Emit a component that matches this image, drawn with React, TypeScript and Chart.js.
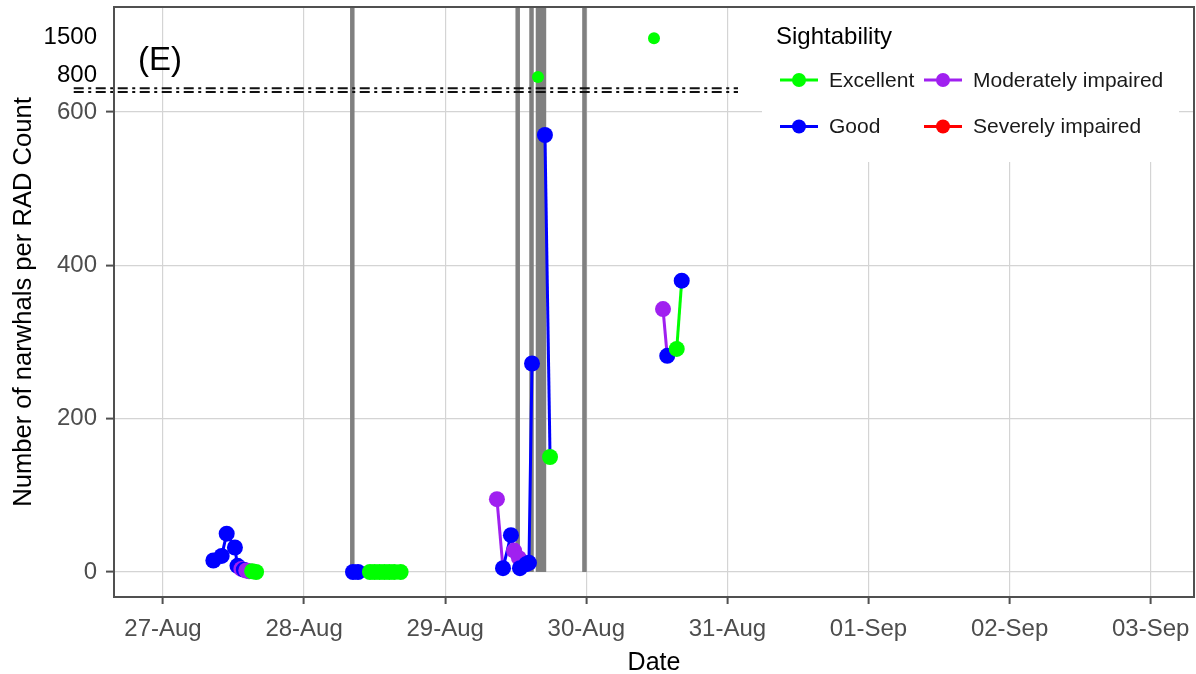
import React, { useEffect, useRef } from 'react';
import { Chart, registerables } from 'chart.js';

Chart.register(...registerables);

// ---------------- data ----------------
const sightLevels = ['Excellent', 'Good', 'Moderately impaired', 'Severely impaired'];
const sightColors = ['#00FF00', '#0000FF', '#A020F0', '#FF0000'];

// observation times (MM-DD HH:MM), counts (null = gap between survey blocks), sightability
const obsTimes = [
  '08-27 08:34', '08-27 09:59', '08-27 10:50', '08-27 12:14', '08-27 12:40', '08-27 13:20',
  '08-27 13:45', '08-27 14:10', '08-27 14:40', '08-27 15:10', '08-27 15:50',
  '08-27 20:00',
  '08-28 08:19', '08-28 09:10', '08-28 11:12', '08-28 12:00', '08-28 12:50', '08-28 13:40',
  '08-28 14:30', '08-28 15:20', '08-28 16:25',
  '08-28 22:00',
  '08-29 08:48', '08-29 09:50', '08-29 11:11', '08-29 11:43', '08-29 12:33', '08-29 12:43',
  '08-29 13:44', '08-29 14:15', '08-29 14:46',
  '08-29 15:15',
  '08-29 15:47',
  '08-29 16:20',
  '08-29 16:58', '08-29 17:50',
  '08-30 00:00',
  '08-30 11:31',
  '08-30 12:00',
  '08-30 13:03', '08-30 13:46', '08-30 15:23', '08-30 16:14',
];
const obsCounts: (number | null)[] = [
  15, 21, 50, 32, 8, 4,
  3, 2, 1, 1, 0,
  null,
  0, 0, 0, 0, 0, 0,
  0, 0, 0,
  null,
  95, 5, 48, 28, 18, 5,
  10, 12, 272,
  null,
  770,
  null,
  570, 150,
  null,
  1480,
  null,
  343, 282, 291, 380,
];
const obsSight = [
  'Good', 'Good', 'Good', 'Good', 'Good', 'Moderately impaired',
  'Good', 'Moderately impaired', 'Moderately impaired', 'Excellent', 'Excellent',
  '',
  'Good', 'Good', 'Excellent', 'Excellent', 'Excellent', 'Excellent',
  'Excellent', 'Excellent', 'Excellent',
  '',
  'Moderately impaired', 'Good', 'Good', 'Moderately impaired', 'Moderately impaired', 'Good',
  'Good', 'Good', 'Good',
  '',
  'Excellent',
  '',
  'Good', 'Excellent',
  '',
  'Excellent',
  '',
  'Moderately impaired', 'Good', 'Excellent', 'Good',
];

// start times of RAD counts (grey vertical lines)
const surveyLineTimes = [
  '08-28 08:12', '08-29 12:20', '08-29 14:41', '08-29 15:47', '08-29 16:17', '08-29 16:48', '08-29 23:41',
];

const xTickLabels = ['27-Aug', '28-Aug', '29-Aug', '30-Aug', '31-Aug', '01-Sep', '02-Sep', '03-Sep'];
const yTickValues = [0, 200, 400, 600, 800, 1500];
const breakMarkLevels = [626, 631];
const breakMarkFrom = '08-26 08:49';
const breakMarkTo = '08-31 01:48';
const xMinTime = '08-26 15:40';
const xMaxTime = '09-03 07:22';
const yMinValue = -32.6;
const yMaxValue = 2050;
const panelLabel = '(E)';
const legendTitle = 'Sightability';

// axis break: values above BREAK_AT are squeezed
const BREAK_AT = 636;
const SQUEEZE = 1 / 14;
const toAxis = (v: number) => (v <= BREAK_AT ? v : BREAK_AT + (v - BREAK_AT) * SQUEEZE);

function dayOf(s: string): number {
  const [md, hm] = s.split(' ');
  const [mo, d] = md.split('-').map(Number);
  const [h, m] = hm.split(':').map(Number);
  const base = mo === 8 ? d - 27 : d + 31 - 27;
  return base + h / 24 + m / 1440;
}

const FONT = '"Liberation Sans", Arial, sans-serif';
Chart.defaults.font.family = FONT;

const colorAt = (i: number) => {
  const k = sightLevels.indexOf(obsSight[i]);
  return k >= 0 ? sightColors[k] : '#000000';
};

const bgPlugin = {
  id: 'bg',
  beforeDraw(chart: any) {
    const { ctx, width, height } = chart;
    ctx.save();
    ctx.fillStyle = '#ffffff';
    ctx.fillRect(0, 0, width, height);
    ctx.restore();
  },
};

const surveyLinesPlugin = {
  id: 'surveyLines',
  beforeDatasetsDraw(chart: any) {
    const { ctx, chartArea: a, scales } = chart;
    const x = scales.x, y = scales.y;
    ctx.save();
    ctx.beginPath();
    ctx.rect(a.left, a.top, a.width, a.height);
    ctx.clip();
    ctx.strokeStyle = '#808080';
    ctx.lineWidth = 4.5;
    const y0 = y.getPixelForValue(0);
    for (const t of surveyLineTimes) {
      const px = x.getPixelForValue(dayOf(t));
      ctx.beginPath();
      ctx.moveTo(px, y0);
      ctx.lineTo(px, a.top);
      ctx.stroke();
    }
    ctx.restore();
  },
};

const overlayPlugin = {
  id: 'overlay',
  afterDraw(chart: any) {
    const { ctx, chartArea: a, scales } = chart;
    const x = scales.x, y = scales.y;
    ctx.save();
    // axis-break marks
    ctx.strokeStyle = '#111111';
    ctx.lineWidth = 2;
    ctx.setLineDash([10, 4.5, 3, 4.5]);
    const xa = x.getPixelForValue(dayOf(breakMarkFrom));
    const xb = x.getPixelForValue(dayOf(breakMarkTo));
    for (const v of breakMarkLevels) {
      const py = y.getPixelForValue(toAxis(v));
      ctx.beginPath();
      ctx.moveTo(xa, py);
      ctx.lineTo(xb, py);
      ctx.stroke();
    }
    ctx.setLineDash([]);

    // legend
    ctx.fillStyle = '#ffffff';
    ctx.fillRect(762, a.top + 1, 417, 162 - a.top - 1);
    ctx.fillStyle = '#000000';
    ctx.font = `24px ${FONT}`;
    ctx.textAlign = 'left';
    ctx.textBaseline = 'alphabetic';
    ctx.fillText(legendTitle, 776, 44);
    const cols = [780, 924];
    const rows = [80, 126.5];
    sightLevels.forEach((lab, i) => {
      const cx = cols[Math.floor(i / 2)];
      const cy = rows[i % 2];
      ctx.strokeStyle = sightColors[i];
      ctx.lineWidth = 3;
      ctx.beginPath();
      ctx.moveTo(cx, cy);
      ctx.lineTo(cx + 38, cy);
      ctx.stroke();
      ctx.fillStyle = sightColors[i];
      ctx.beginPath();
      ctx.arc(cx + 19, cy, 7, 0, Math.PI * 2);
      ctx.fill();
      ctx.fillStyle = '#1a1a1a';
      ctx.font = `21px ${FONT}`;
      ctx.textBaseline = 'middle';
      ctx.fillText(lab, cx + 49, cy + 1);
    });

    // panel label
    ctx.fillStyle = '#000000';
    ctx.font = `33px ${FONT}`;
    ctx.textAlign = 'center';
    ctx.textBaseline = 'middle';
    ctx.fillText(panelLabel, 160, 61);

    // panel border
    ctx.strokeStyle = '#505050';
    ctx.lineWidth = 2;
    ctx.strokeRect(a.left, a.top, a.width, a.height);
    ctx.restore();
  },
};

export default function App() {
  const ref = useRef<HTMLCanvasElement>(null);
  useEffect(() => {
    const canvas = ref.current;
    if (!canvas) return;
    const data = obsTimes.map((t, i) => ({
      x: dayOf(t),
      y: obsCounts[i] == null ? null : toAxis(obsCounts[i] as number),
    }));
    const yTicksAxis = yTickValues.map(toAxis);
    const chart = new Chart(canvas, {
      type: 'line',
      data: {
        datasets: [
          {
            data: data as any,
            borderWidth: 3,
            borderColor: '#0000FF',
            segment: { borderColor: (c: any) => colorAt(c.p0DataIndex) },
            pointBackgroundColor: (c: any) => colorAt(c.dataIndex),
            pointBorderColor: (c: any) => colorAt(c.dataIndex),
            pointBorderWidth: 0,
            pointRadius: (c: any) => ((obsCounts[c.dataIndex] ?? 0) > BREAK_AT ? 6 : 8),
            spanGaps: false,
            tension: 0,
          } as any,
        ],
      },
      options: {
        responsive: false,
        animation: false,
        devicePixelRatio: 1,
        events: [],
        layout: { autoPadding: false, padding: { top: 7, right: 2, left: 0, bottom: 0 } },
        plugins: { legend: { display: false }, tooltip: { enabled: false } },
        scales: {
          x: {
            type: 'linear',
            min: dayOf(xMinTime),
            max: dayOf(xMaxTime),
            afterBuildTicks: (s: any) => {
              s.ticks = xTickLabels.map((_, i) => ({ value: i }));
            },
            afterFit: (s: any) => {
              s.height = 77;
              s.paddingLeft = 0;
              s.paddingRight = 0;
              s.paddingTop = 0;
              s.paddingBottom = 0;
            },
            ticks: {
              callback: (_v: any, i: number) => xTickLabels[i],
              color: '#4d4d4d',
              font: { size: 24 },
              padding: 11,
              maxRotation: 0,
              autoSkip: false,
            },
            grid: { color: '#d4d4d4', lineWidth: 1.2, tickColor: '#505050', tickLength: 7, tickWidth: 2 },
            border: { display: false },
            title: {
              display: true,
              text: 'Date',
              color: '#000000',
              font: { size: 25, lineHeight: 0.85 },
              padding: { top: 0, bottom: 0 },
            },
          },
          y: {
            type: 'linear',
            min: yMinValue,
            max: toAxis(yMaxValue),
            afterBuildTicks: (s: any) => {
              s.ticks = yTicksAxis.map((v) => ({ value: v }));
            },
            afterFit: (s: any) => {
              s.width = 114;
              s.paddingLeft = 0;
              s.paddingRight = 0;
              s.paddingTop = 0;
              s.paddingBottom = 0;
            },
            ticks: {
              callback: (_v: any, i: number) => String(yTickValues[i]),
              color: (c: any) => (c.tick && c.tick.value > BREAK_AT ? '#000000' : '#4d4d4d'),
              font: { size: 24 },
              padding: 9,
              autoSkip: false,
            },
            grid: {
              color: (c: any) => (c.tick && c.tick.value > BREAK_AT ? 'rgba(0,0,0,0)' : '#d4d4d4'),
              lineWidth: 1.2,
              tickColor: (c: any) => (c.tick && c.tick.value > BREAK_AT ? 'rgba(0,0,0,0)' : '#505050'),
              tickLength: 8,
              tickWidth: 2,
            },
            border: { display: false },
            title: {
              display: true,
              text: 'Number of narwhals per RAD Count',
              color: '#000000',
              font: { size: 25.6, lineHeight: 1 },
              padding: { top: 11.2, bottom: 0 },
            },
          },
        },
      } as any,
      plugins: [bgPlugin, surveyLinesPlugin, overlayPlugin],
    });
    return () => chart.destroy();
  }, []);

  return (
    <div style={{ position: 'fixed', left: 0, top: 0, width: 1196, height: 674, background: '#fff' }}>
      <canvas ref={ref} width={1196} height={674} style={{ display: 'block', width: 1196, height: 674 }} />
    </div>
  );
}
